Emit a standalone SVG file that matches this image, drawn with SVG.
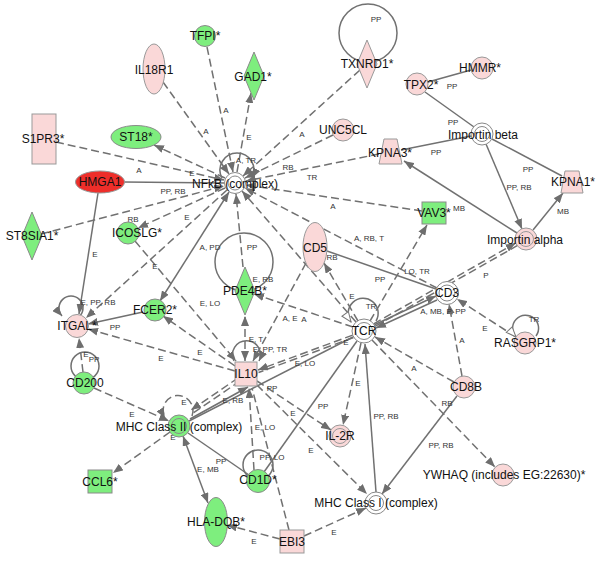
<svg xmlns="http://www.w3.org/2000/svg" width="600" height="564" viewBox="0 0 600 564">
<style>
.e{fill:none;stroke:#717171;stroke-width:1.5}
.d{stroke-dasharray:8,4}
.el{font-family:"Liberation Sans",Arial,sans-serif;font-size:8px;fill:#333;text-anchor:middle;dominant-baseline:central}
.nl{font-family:"Liberation Sans",Arial,sans-serif;font-size:12px;fill:#111;text-anchor:middle;dominant-baseline:central}
.pk{fill:#fad8d8;stroke:#999;stroke-width:1}
.gr{fill:#7eee7e;stroke:#8a8a8a;stroke-width:1}
.rd{fill:#ee2e2a;stroke:#999;stroke-width:1}
.wh{fill:#fff;stroke:#888;stroke-width:1}
</style>
<defs>
<marker id="a" viewBox="0 0 10 8" refX="10" refY="4" markerWidth="10" markerHeight="8" markerUnits="userSpaceOnUse" orient="auto-start-reverse"><path d="M0,0L10,4L0,8z" fill="#6e6e6e"/></marker>
<marker id="h" viewBox="0 0 12 10" refX="11" refY="5" markerWidth="12" markerHeight="10" markerUnits="userSpaceOnUse" orient="auto"><path d="M1,1L11,5L1,9z" fill="#fff" stroke="#777" stroke-width="1"/></marker>
</defs>
<rect width="600" height="564" fill="#fff"/>
<g id="connectors">
<circle class="e" cx="368" cy="33" r="29"/>
<circle class="e" cx="244" cy="262" r="29"/>
<circle class="e" cx="85" cy="366" r="14"/>
<circle class="e" cx="258" cy="465" r="15"/>
<line class="e d" x1="207" y1="47" x2="233" y2="172" marker-end="url(#a)"/>
<line class="e d" x1="163" y1="82" x2="229" y2="174" marker-end="url(#a)"/>
<line class="e d" x1="237" y1="172" x2="251" y2="93" marker-end="url(#a)"/>
<line class="e d" x1="56" y1="142" x2="224" y2="180" marker-end="url(#a)"/>
<line class="e d" x1="225" y1="178" x2="154" y2="145" marker-end="url(#a)"/>
<line class="e" x1="124" y1="182" x2="224" y2="183"/>
<line class="e d" x1="360" y1="70" x2="243" y2="176" marker-end="url(#a)"/>
<line class="e d" x1="333" y1="135" x2="245" y2="178" marker-end="url(#a)"/>
<line class="e d" x1="379" y1="154" x2="246" y2="181" marker-end="url(#a)"/>
<line class="e d" x1="41" y1="234" x2="224" y2="186" marker-end="url(#a)"/>
<line class="e d" x1="225" y1="188" x2="138" y2="228" marker-end="url(#a)"/>
<line class="e d" x1="227" y1="190" x2="86" y2="318" marker-end="url(#a)"/>
<line class="e" x1="229" y1="192" x2="160" y2="301" marker-start="url(#a)" marker-end="url(#a)"/>
<line class="e d" x1="243" y1="267" x2="236" y2="194" marker-end="url(#a)"/>
<line class="e d" x1="422" y1="211" x2="246" y2="185" marker-end="url(#a)"/>
<line class="e d" x1="437" y1="288" x2="245" y2="188" marker-end="url(#a)"/>
<line class="e d" x1="356" y1="322" x2="242" y2="191" marker-end="url(#a)"/>
<path class="e" d="M222,178 A17,17 0 1 1 252,178" marker-end="url(#a)"/>
<line class="e" x1="428" y1="82" x2="471" y2="70"/>
<line class="e" x1="425" y1="92" x2="474" y2="127"/>
<line class="e" x1="471" y1="136" x2="401" y2="150"/>
<line class="e" x1="492" y1="139" x2="562" y2="176"/>
<line class="e" x1="486" y1="144" x2="522" y2="229" marker-end="url(#a)"/>
<line class="e" x1="533" y1="230" x2="563" y2="193" marker-end="url(#a)"/>
<line class="e" x1="517" y1="233" x2="404" y2="161" marker-end="url(#a)"/>
<line class="e d" x1="370" y1="321" x2="427" y2="225" marker-end="url(#a)"/>
<line class="e" x1="374" y1="325" x2="436" y2="296" marker-end="url(#a)"/>
<line class="e" x1="376" y1="328" x2="437" y2="300" marker-start="url(#a)"/>
<line class="e d" x1="373.7" y1="323.8" x2="515.7" y2="243.1" marker-end="url(#a)"/>
<line class="e d" x1="375.1" y1="326.4" x2="517.1" y2="245.7"/>
<line class="e" x1="327" y1="251" x2="436" y2="289"/>
<line class="e d" x1="358" y1="321" x2="324" y2="263" marker-end="url(#a)"/>
<line class="e d" x1="462" y1="376" x2="449" y2="304" marker-end="url(#a)"/>
<line class="e d" x1="516" y1="337" x2="457" y2="299" marker-end="url(#a)"/>
<path class="e" d="M536,336 A13,13 0 1 0 516,337" marker-end="url(#h)"/>
<line class="e d" x1="454" y1="382" x2="375" y2="337" marker-end="url(#a)"/>
<path class="e" d="M376,321 A15,15 0 1 0 351,322" marker-end="url(#h)"/>
<line class="e d" x1="353" y1="327" x2="254" y2="294" marker-end="url(#a)"/>
<line class="e d" x1="306" y1="263" x2="253" y2="361" marker-end="url(#a)"/>
<line class="e d" x1="245" y1="361" x2="245" y2="316" marker-start="url(#a)" marker-end="url(#a)"/>
<path class="e" d="M234,361 A14,14 0 1 1 259,361" marker-end="url(#a)"/>
<line class="e d" x1="135" y1="241" x2="236" y2="361" marker-end="url(#a)"/>
<line class="e d" x1="235" y1="366" x2="163" y2="316" marker-end="url(#a)"/>
<line class="e d" x1="235" y1="371" x2="88" y2="329" marker-end="url(#a)"/>
<line class="e" x1="143" y1="312" x2="88" y2="324" marker-end="url(#a)"/>
<line class="e" x1="98" y1="193" x2="79" y2="314" marker-end="url(#a)"/>
<path class="e" d="M80,316 A12,12 0 1 0 62,316" marker-end="url(#a)"/>
<line class="e d" x1="83" y1="372" x2="79" y2="338" marker-end="url(#a)"/>
<line class="e d" x1="94" y1="388" x2="169" y2="421" marker-end="url(#a)"/>
<path class="e d" d="M192,416 A15,15 0 1 0 165,418" marker-end="url(#a)"/>
<line class="e d" x1="170" y1="432" x2="113" y2="473" marker-end="url(#a)"/>
<line class="e" x1="183" y1="436" x2="208" y2="503" marker-start="url(#a)" marker-end="url(#a)"/>
<line class="e" x1="188" y1="433" x2="249" y2="475"/>
<line class="e d" x1="238" y1="378" x2="191" y2="410" marker-end="url(#a)"/>
<line class="e d" x1="240" y1="381" x2="193" y2="413"/>
<line class="e" x1="190" y1="419" x2="248" y2="387" marker-end="url(#a)"/>
<line class="e d" x1="352.7" y1="335.1" x2="258" y2="370" marker-end="url(#a)"/>
<line class="e d" x1="353.5" y1="337.5" x2="258.5" y2="372.5"/>
<line class="e" x1="353" y1="337" x2="189" y2="421"/>
<line class="e d" x1="257" y1="381" x2="331" y2="430" marker-end="url(#a)"/>
<line class="e d" x1="257" y1="385" x2="367" y2="494" marker-end="url(#a)"/>
<line class="e d" x1="361" y1="343" x2="343" y2="425" marker-end="url(#a)"/>
<line class="e" x1="357" y1="341" x2="264" y2="472"/>
<line class="e" x1="376" y1="492" x2="365" y2="344" marker-end="url(#a)"/>
<line class="e" x1="457" y1="396" x2="382" y2="494" marker-end="url(#a)"/>
<line class="e d" x1="372" y1="340" x2="495" y2="467" marker-end="url(#a)"/>
<line class="e d" x1="254" y1="470" x2="249" y2="388" marker-end="url(#a)"/>
<line class="e d" x1="289" y1="530" x2="252" y2="388"/>
<line class="e d" x1="280" y1="539" x2="227" y2="525" marker-end="url(#a)"/>
<line class="e d" x1="304" y1="536" x2="366" y2="508" marker-end="url(#a)"/>
<text class="el" x="226" y="110">A</text>
<text class="el" x="206" y="131">A</text>
<text class="el" x="249" y="137">E</text>
<text class="el" x="139" y="170">A</text>
<text class="el" x="192" y="173">E</text>
<text class="el" x="173" y="191">PP, RB</text>
<text class="el" x="302" y="134">A</text>
<text class="el" x="288" y="167">RB</text>
<text class="el" x="312" y="177">TR</text>
<text class="el" x="246" y="160">A, TR</text>
<text class="el" x="133" y="219">RB</text>
<text class="el" x="187" y="217">E</text>
<text class="el" x="155" y="266">E</text>
<text class="el" x="210" y="247">A, PD</text>
<text class="el" x="252" y="247">PP</text>
<text class="el" x="263" y="279">E, RB</text>
<text class="el" x="333" y="206">A</text>
<text class="el" x="369" y="238">A, RB, T</text>
<text class="el" x="376" y="19">PP</text>
<text class="el" x="452" y="86">PP</text>
<text class="el" x="453" y="122">PP</text>
<text class="el" x="436" y="152">PP</text>
<text class="el" x="528" y="169">PP</text>
<text class="el" x="519" y="187">PP, RB</text>
<text class="el" x="563" y="211">MB</text>
<text class="el" x="459" y="208">MB</text>
<text class="el" x="380" y="279">PP</text>
<text class="el" x="417" y="271">LO, TR</text>
<text class="el" x="332" y="257">RB</text>
<text class="el" x="352" y="296">E</text>
<text class="el" x="371" y="306">TR</text>
<text class="el" x="443" y="311">A, MB, P, PP</text>
<text class="el" x="486" y="275">P</text>
<text class="el" x="462" y="340">A</text>
<text class="el" x="485" y="328">E</text>
<text class="el" x="534" y="319">TR</text>
<text class="el" x="414" y="368">A</text>
<text class="el" x="290" y="318">A, E</text>
<text class="el" x="304" y="319">A</text>
<text class="el" x="256" y="339">E, T</text>
<text class="el" x="270" y="349">E, PP, TR</text>
<text class="el" x="210" y="303">E, LO</text>
<text class="el" x="200" y="352">E</text>
<text class="el" x="161" y="358">E</text>
<text class="el" x="115" y="327">PP</text>
<text class="el" x="95" y="254">E</text>
<text class="el" x="98" y="302">E, PP, RB</text>
<text class="el" x="86" y="354">E</text>
<text class="el" x="94" y="359">PP</text>
<text class="el" x="132" y="414">E</text>
<text class="el" x="184" y="402">E</text>
<text class="el" x="173" y="437">E</text>
<text class="el" x="233" y="400">E, RB</text>
<text class="el" x="208" y="469">E, MB</text>
<text class="el" x="221" y="461">PP</text>
<text class="el" x="346" y="342">E</text>
<text class="el" x="305" y="363">E, LO</text>
<text class="el" x="272" y="388">PP</text>
<text class="el" x="293" y="413">E</text>
<text class="el" x="311" y="450">E</text>
<text class="el" x="358" y="383">E</text>
<text class="el" x="323" y="406">PP</text>
<text class="el" x="386" y="416">PP, RB</text>
<text class="el" x="447" y="403">RB</text>
<text class="el" x="441" y="445">PP, RB</text>
<text class="el" x="265" y="427">E, LO</text>
<text class="el" x="272" y="457">PP, LO</text>
<text class="el" x="254" y="541">E</text>
<text class="el" x="334" y="532">E</text>
</g>
<g id="TFPI"><circle class="gr" cx="205" cy="36" r="10.5"/><text class="nl" x="205" y="36">TFPI*</text></g>
<g id="IL18R1"><ellipse class="pk" cx="154" cy="69" rx="11" ry="25"/><text class="nl" x="154" y="70">IL18R1</text></g>
<g id="GAD1"><polygon class="gr" points="254,52 264,76 254,100 244,76"/><text class="nl" x="253" y="77">GAD1*</text></g>
<g id="S1PR3"><rect class="pk" x="32" y="114" width="24" height="50"/><text class="nl" x="43" y="139">S1PR3*</text></g>
<g id="ST18"><ellipse class="gr" cx="136" cy="137" rx="25" ry="11.5"/><text class="nl" x="136" y="137">ST18*</text></g>
<g id="HMGA1"><ellipse class="rd" cx="100" cy="182" rx="24.5" ry="11"/><text class="nl" x="100" y="182">HMGA1</text></g>
<g id="NFkB"><circle class="wh" cx="235" cy="183" r="10.5"/><circle class="wh" cx="235" cy="183" r="7"/><text class="nl" x="235" y="184">NFkB (complex)</text></g>
<g id="TXNRD1"><polygon class="pk" points="367,40 377,64 367,88 357,64"/><text class="nl" x="367" y="64">TXNRD1*</text></g>
<g id="HMMR"><circle class="pk" cx="482" cy="68" r="11"/><text class="nl" x="480" y="68">HMMR*</text></g>
<g id="TPX2"><circle class="pk" cx="417" cy="84" r="11"/><text class="nl" x="421" y="85">TPX2*</text></g>
<g id="UNC5CL"><circle class="pk" cx="343" cy="130" r="11"/><text class="nl" x="343" y="130">UNC5CL</text></g>
<g id="ImportinBeta"><circle class="wh" cx="482" cy="134" r="11"/><circle class="wh" cx="482" cy="134" r="7.5"/><text class="nl" x="483" y="135">Importin beta</text></g>
<g id="KPNA3"><polygon class="pk" points="384,139 397,139 402,164 379,164"/><text class="nl" x="390" y="153">KPNA3*</text></g>
<g id="KPNA1"><polygon class="pk" points="565,171 579,171 583,193 561,193"/><text class="nl" x="573" y="182">KPNA1*</text></g>
<g id="ImportinAlpha"><circle class="pk" cx="526" cy="239" r="11"/><circle class="pk" cx="526" cy="239" r="7.5"/><text class="nl" x="525" y="240">Importin alpha</text></g>
<g id="VAV3"><rect class="gr" x="422" y="202" width="24" height="22"/><text class="nl" x="434" y="213">VAV3*</text></g>
<g id="CD5"><ellipse class="pk" cx="315" cy="247" rx="12" ry="24.5"/><text class="nl" x="315" y="248">CD5</text></g>
<g id="CD3"><circle class="wh" cx="447" cy="293" r="11.5"/><circle class="wh" cx="447" cy="293" r="8"/><text class="nl" x="447" y="293">CD3</text></g>
<g id="TCR"><circle class="wh" cx="364" cy="331" r="12"/><circle class="wh" cx="364" cy="331" r="8.5"/><text class="nl" x="364" y="331">TCR</text></g>
<g id="RASGRP1"><circle class="pk" cx="525" cy="343" r="11"/><text class="nl" x="525" y="343">RASGRP1*</text></g>
<g id="ST8SIA1"><polygon class="gr" points="32,212 42,236 32,260 22,236"/><text class="nl" x="32" y="236">ST8SIA1*</text></g>
<g id="ICOSLG"><circle class="gr" cx="128" cy="233" r="11"/><text class="nl" x="137" y="233">ICOSLG*</text></g>
<g id="FCER2"><circle class="gr" cx="155" cy="310" r="11"/><text class="nl" x="155" y="310">FCER2*</text></g>
<g id="ITGAL"><circle class="pk" cx="77" cy="326" r="11.5"/><text class="nl" x="77" y="326">ITGAL*</text></g>
<g id="PDE4B"><polygon class="gr" points="245,267 255,291 245,315 235,291"/><text class="nl" x="245" y="291">PDE4B*</text></g>
<g id="IL10"><rect class="pk" x="235" y="362" width="22" height="24"/><text class="nl" x="246" y="374">IL10</text></g>
<g id="CD200"><circle class="gr" cx="84" cy="383" r="11"/><text class="nl" x="85" y="383">CD200</text></g>
<g id="MHCII"><circle class="gr" cx="179" cy="426" r="11"/><circle class="gr" cx="179" cy="426" r="7.5"/><text class="nl" x="179" y="427">MHC Class II (complex)</text></g>
<g id="CCL6"><rect class="gr" x="88" y="470" width="24" height="23"/><text class="nl" x="100" y="482">CCL6*</text></g>
<g id="HLADQB"><ellipse class="gr" cx="216" cy="522" rx="11.5" ry="24.5"/><text class="nl" x="216" y="522">HLA-DQB*</text></g>
<g id="CD1D"><circle class="gr" cx="258" cy="481" r="11.5"/><text class="nl" x="258" y="480">CD1D*</text></g>
<g id="EBI3"><rect class="pk" x="280" y="530" width="24" height="23"/><text class="nl" x="292" y="542">EBI3</text></g>
<g id="IL2R"><circle class="pk" cx="340" cy="436" r="11"/><circle class="pk" cx="340" cy="436" r="7.5"/><text class="nl" x="340" y="436">IL-2R</text></g>
<g id="MHCI"><circle class="wh" cx="376" cy="503" r="11"/><circle class="wh" cx="376" cy="503" r="7.5"/><text class="nl" x="376" y="503">MHC Class I (complex)</text></g>
<g id="CD8B"><circle class="pk" cx="464" cy="387" r="11"/><text class="nl" x="466" y="387">CD8B</text></g>
<g id="YWHAQ"><circle class="pk" cx="503" cy="475" r="11"/><text class="nl" x="504" y="475">YWHAQ (includes EG:22630)*</text></g>
</svg>
